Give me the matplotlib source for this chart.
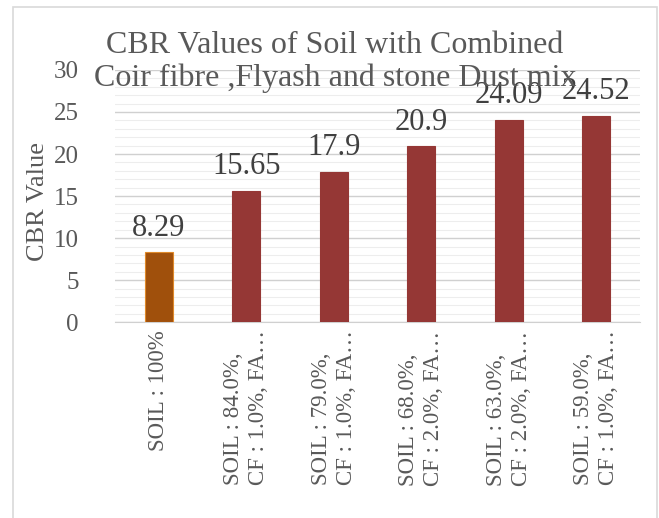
import matplotlib.pyplot as plt
from matplotlib.patches import Rectangle

plt.rcParams['font.family'] = ['Liberation Serif', 'DejaVu Serif']

# mixes (labels as truncated in the chart)
labels = ["SOIL : 100%",
          "SOIL : 84.0%,\nCF : 1.0%, FA…",
          "SOIL : 79.0%,\nCF : 1.0%, FA…",
          "SOIL : 68.0%,\nCF : 2.0%, FA…",
          "SOIL : 63.0%,\nCF : 2.0%, FA…",
          "SOIL : 59.0%,\nCF : 1.0%, FA…"]
cbr = [8.29, 15.65, 17.9, 20.9, 24.09, 24.52]
bar_colors = ['#A0500C', '#953735', '#953735', '#953735', '#953735', '#953735']
edge_colors = ['#E08A2A', '#953735', '#953735', '#953735', '#953735', '#953735']

fig = plt.figure(figsize=(6.59, 5.18), dpi=100)
ax = fig.add_axes([0.1745, 0.378, 0.7965, 0.487])

x = range(len(cbr))
bars = ax.bar(x, cbr, width=0.32, color=bar_colors, edgecolor=edge_colors, linewidth=0.8, zorder=3)

for b, v in zip(bars, cbr):
    ax.annotate(f"{v:g}", (b.get_x() + b.get_width() / 2, v), xytext=(0, 7),
                textcoords='offset points', ha='center', va='bottom',
                fontsize=22, color='#404040')

ax.set_xlim(-0.5, len(cbr) - 0.5)
ax.set_ylim(0, 30)
ax.set_yticks(range(0, 31, 5))
ax.set_yticks(range(0, 31, 1), minor=True)
ax.grid(axis='y', which='major', color='#D0D0D0', linewidth=1, zorder=0)
ax.grid(axis='y', which='minor', color='#EDEDED', linewidth=0.8, zorder=0)
ax.tick_params(axis='y', which='both', length=0, labelsize=18, labelcolor='#595959', pad=26)
ax.tick_params(axis='x', length=0, labelsize=16.5, labelcolor='#595959', pad=6)
ax.set_xticks(list(x))
ax.set_xticklabels(labels, rotation=90, linespacing=1.25, multialignment='left')
for s in ['top', 'right', 'left']:
    ax.spines[s].set_visible(False)
ax.spines['bottom'].set_color('#D0D0D0')

ax.set_ylabel("CBR Value", fontsize=19, color='#595959')
ax.yaxis.set_label_coords(-0.125, 0.48)

fig.text(0.508, 0.880, "CBR Values of Soil with Combined\nCoir fibre ,Flyash and stone Dust mix",
         ha='center', va='center', fontsize=23, color='#595959', linespacing=1.18, zorder=5)

# outer chart border
fig.patches.append(Rectangle((0.02, -0.05), 0.977, 1.037, transform=fig.transFigure,
                             fill=False, edgecolor='#D9D9D9', linewidth=1.2))

fig.savefig('out.png', dpi=100)
